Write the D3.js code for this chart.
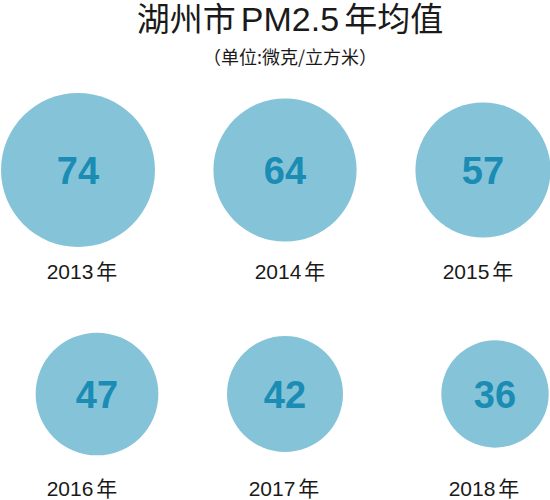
<!DOCTYPE html>
<html>
<head>
<meta charset="utf-8">
<script src="https://cdn.jsdelivr.net/npm/d3@7"></script>
<style>
  html, body { margin: 0; padding: 0; background: #fff; }
  svg { display: block; }
</style>
</head>
<body>
<div id="chart"></div>
<script>
// PM2.5 yearly averages, Huzhou (ug/m3)
const years = ["2013", "2014", "2015", "2016", "2017", "2018"];
const values = [74, 64, 57, 47, 42, 36];
const titleParts = ["湖州市", "PM2.5", "年均值"];
const subtitle = "（单位:微克/立方米）";

const width = 550;
const height = 500;
const perRow = 3;

const svg = d3.select("#chart")
    .append("svg")
    .attr("width", width)
    .attr("height", height);

// circle area follows the value
const r = d3.scaleSqrt().domain([0, 100]).range([0, 89.5]);

// hand-tuned grid, one scale per row (circles are staggered a bit)
const rowY = d3.scaleLinear().domain([0, 1]).range([170, 394]);
const labelY = d3.scaleLinear().domain([0, 1]).range([279, 496]);
const circleX = [
    d3.scaleLinear().domain([0, 1, 2]).range([78, 285, 483]),
    d3.scaleLinear().domain([0, 1, 2]).range([97, 285, 495])
];
const labelX = [
    d3.scaleLinear().domain([0, 1, 2]).range([82, 290, 478]),
    d3.scaleLinear().domain([0, 1, 2]).range([82, 284, 484])
];

const data = years.map((y, i) => ({
    year: y,
    value: values[i],
    row: Math.floor(i / perRow),
    col: i % perRow
}));

// title: latin part in a helvetica-like face, small gaps around it
const title = svg.append("text")
    .attr("x", 290)
    .attr("y", 31)
    .attr("text-anchor", "middle")
    .style("font-family", "'Liberation Sans', 'Noto Sans CJK SC', sans-serif")
    .style("font-size", "33px")
    .attr("fill", "#1a1a1a");

title.selectAll("tspan")
    .data(titleParts)
    .join("tspan")
    .attr("dx", (d, i) => i ? 5 : 0)
    .style("font-size", (d, i) => i === 1 ? "34px" : "33px")
    .text(d => d);

svg.append("text")
    .attr("x", 290)
    .attr("y", 64)
    .attr("text-anchor", "middle")
    .style("font-family", "'Noto Sans CJK SC', sans-serif")
    .style("font-size", "18px")
    .attr("fill", "#1a1a1a")
    .text(subtitle);

const cell = svg.selectAll("g.bubble")
    .data(data)
    .join("g")
    .attr("class", "bubble");

cell.append("circle")
    .attr("cx", d => circleX[d.row](d.col))
    .attr("cy", d => rowY(d.row))
    .attr("r", d => r(d.value))
    .attr("fill", "#85c4d8");

cell.append("text")
    .attr("x", d => circleX[d.row](d.col))
    .attr("y", d => rowY(d.row))
    .attr("dy", "0.36em")
    .attr("text-anchor", "middle")
    .style("font-family", "'Liberation Sans', Arial, sans-serif")
    .style("font-weight", "bold")
    .style("font-size", "38px")
    .attr("fill", "#1b8cb4")
    .text(d => d.value);

const label = cell.append("text")
    .attr("x", d => labelX[d.row](d.col))
    .attr("y", d => labelY(d.row))
    .attr("text-anchor", "middle")
    .style("font-family", "'Liberation Sans', 'Noto Sans CJK SC', sans-serif")
    .style("font-size", "21px")
    .attr("fill", "#1a1a1a");

label.append("tspan").text(d => d.year);
label.append("tspan").attr("dx", 3).text("年");
</script>
</body>
</html>
